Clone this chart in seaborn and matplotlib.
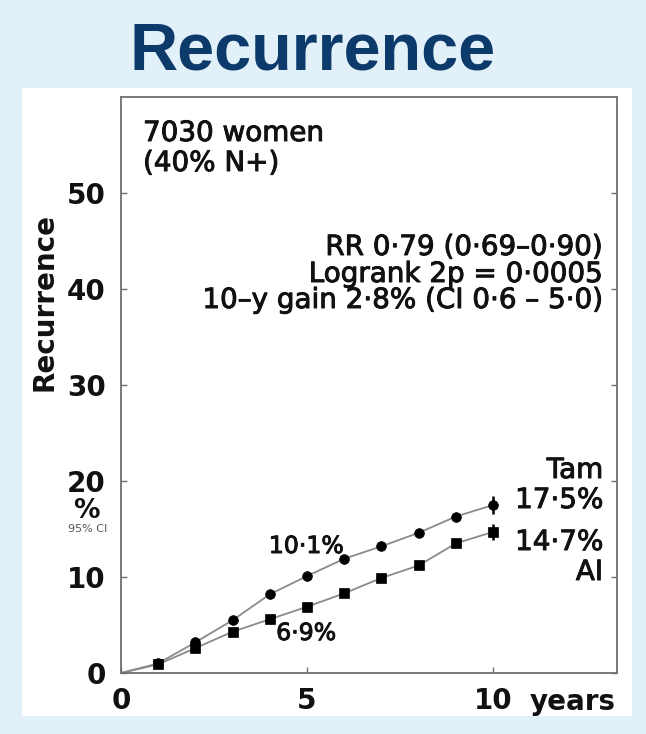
import numpy as np
import pandas as pd
import matplotlib
matplotlib.use("Agg")
import matplotlib.pyplot as plt
from matplotlib.patches import Rectangle
import matplotlib.patheffects as pe
import seaborn as sns

# ---------------- data ----------------
years = [0, 1, 2, 3, 4, 5, 6, 7, 8, 9, 10]
tam = [0, 1.0, 3.2, 5.5, 8.2, 10.1, 11.9, 13.2, 14.6, 16.3, 17.5]
ai = [0, 0.9, 2.6, 4.3, 5.6, 6.9, 8.3, 9.9, 11.2, 13.5, 14.7]
arms = ["Tam", "AI"]
ci_year = 10
tam_ci_halfwidth = 0.9
ai_ci_halfwidth = 0.8
x_ticks = [0, 5, 10]
y_ticks = [0, 10, 20, 30, 40, 50]

df = pd.DataFrame({
    "year": years * 2,
    "pct": tam + ai,
    "arm": [arms[0]] * len(years) + [arms[1]] * len(years),
})

# ---------------- style ----------------
sns.set_style("white")
plt.rcParams["font.family"] = ["DejaVu Sans"]
W, H = 646, 734
fig = plt.figure(figsize=(W / 100, H / 100), dpi=100, facecolor="#e1f0f9")

# white slide panel
fig.add_artist(Rectangle((22 / W, 1 - 716 / H), (632 - 22) / W, (716 - 88) / H,
                         transform=fig.transFigure, facecolor="white",
                         edgecolor="none", zorder=0))

ax = fig.add_axes([121 / W, 1 - 673 / H, (617 - 121) / W, (673 - 97) / H])
ax.set_facecolor("white")

sns.lineplot(data=df, x="year", y="pct", style="arm",
             markers={"Tam": "o", "AI": "s"}, dashes=False,
             color="#8a8a8a", linewidth=1.3,
             markerfacecolor="black", markeredgecolor="black",
             markersize=7, markeredgewidth=0.5,
             markevery=list(range(1, len(years))),
             legend=False, ax=ax)

ax.errorbar([ci_year], [tam[-1]], yerr=[[tam_ci_halfwidth], [tam_ci_halfwidth]],
            fmt="none", ecolor="black", elinewidth=1.8, capsize=0, zorder=5)
ax.errorbar([ci_year], [ai[-1]], yerr=[[ai_ci_halfwidth], [ai_ci_halfwidth]],
            fmt="none", ecolor="black", elinewidth=1.8, capsize=0, zorder=5)

ax.set_xlim(0, 13.33)
ax.set_ylim(0, 60)
ax.set_xticks(x_ticks)
ax.set_yticks(y_ticks)
ax.set_xticklabels([str(v) for v in x_ticks], fontsize=20, fontweight="bold",
                   color="#111111")
ax.set_yticklabels([str(v) for v in y_ticks], fontsize=20, fontweight="bold",
                   color="#111111")
ax.set_xlabel("")
ax.set_ylabel("")
for s in ax.spines.values():
    s.set_visible(True)
    s.set_color("#707070")
    s.set_linewidth(1.3)
ax.tick_params(axis="y", which="both", left=True, right=True, direction="in",
               length=4, width=1, color="#707070", pad=11)
ax.tick_params(axis="x", which="both", bottom=True, direction="in",
               length=4, width=1, color="#707070", pad=10)
ax.tick_params(axis="y", labelleft=True, labelright=False)

# helper to convert reference pixel to data
def dx(px):
    return (px - 121) / 37.2

def dy(py):
    return (673 - py) / 9.6

thick = [pe.withStroke(linewidth=0.7, foreground="#111111")]
txt = dict(color="#111111", fontsize=20, path_effects=thick)
ax.text(dx(143), dy(141), "7030 women", ha="left", va="baseline", **txt)
ax.text(dx(143), dy(171), "(40% N+)", ha="left", va="baseline", **txt)
ax.text(dx(603), dy(255), "RR 0·79 (0·69–0·90)", ha="right", va="baseline", **txt)
ax.text(dx(603), dy(282), "Logrank 2p = 0·0005", ha="right", va="baseline", **txt)
ax.text(dx(603), dy(308), "10–y gain 2·8% (CI 0·6 – 5·0)", ha="right", va="baseline", **txt)

ax.text(dx(603), dy(478), "Tam", ha="right", va="baseline", **txt)
ax.text(dx(603), dy(508), "17·5%", ha="right", va="baseline", **txt)
ax.text(dx(603), dy(550), "14·7%", ha="right", va="baseline", **txt)
ax.text(dx(603), dy(580), "AI", ha="right", va="baseline", **txt)

ax.text(dx(306), dy(553), "10·1%", ha="center", va="baseline", color="#111111",
        fontsize=17, path_effects=thick)
ax.text(dx(306), dy(640), "6·9%", ha="center", va="baseline", color="#111111",
        fontsize=17, path_effects=thick)

ax.text(dx(616), dy(710), "years", ha="right", va="baseline", color="#111111",
        fontsize=20, fontweight="bold", clip_on=False)

# title and side labels
fig.text(313 / W, 1 - 70 / H, "Recurrence", ha="center", va="baseline",
         fontsize=48, fontweight="bold", color="#0b3a6b",
         family=["Liberation Sans", "DejaVu Sans"])
fig.text(45 / W, 1 - 302 / H, "Recurrence", rotation=90, ha="center", va="center",
         fontsize=20, fontweight="bold", color="#111111")
fig.text(86 / W, 1 - 511 / H, "%", ha="center", va="center",
         fontsize=19, fontweight="bold", color="#111111")
fig.text(88 / W, 1 - 529 / H, "95% CI", ha="center", va="center",
         fontsize=8, color="#555555")

fig.savefig("out.png", dpi=100, facecolor=fig.get_facecolor())
